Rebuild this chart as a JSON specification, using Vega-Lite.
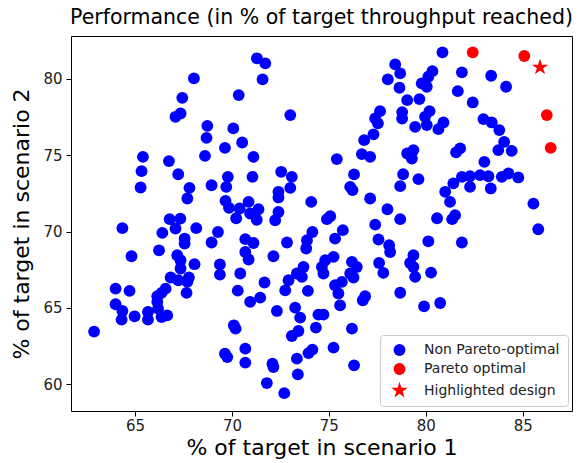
{
"$schema": "https://vega.github.io/schema/vega-lite/v6.json",
"width": 501, "height": 375,
"autosize": {"type": "none"},
"padding": {"left": 71, "top": 36, "right": 8, "bottom": 52},
"title": {"text": "Performance (in % of target throughput reached)", "fontSize": 20.5, "fontWeight": "normal", "anchor": "middle", "offset": 8, "color": "black"},
"data": {"values": [
{"s1":68.04,"s2":80.03,"group":"Non Pareto-optimal"},
{"s1":67.44,"s2":78.75,"group":"Non Pareto-optimal"},
{"s1":67.09,"s2":77.51,"group":"Non Pareto-optimal"},
{"s1":67.35,"s2":77.73,"group":"Non Pareto-optimal"},
{"s1":70.35,"s2":78.93,"group":"Non Pareto-optimal"},
{"s1":68.73,"s2":76.92,"group":"Non Pareto-optimal"},
{"s1":68.69,"s2":76.13,"group":"Non Pareto-optimal"},
{"s1":70.07,"s2":76.75,"group":"Non Pareto-optimal"},
{"s1":69.64,"s2":75.48,"group":"Non Pareto-optimal"},
{"s1":70.53,"s2":75.83,"group":"Non Pareto-optimal"},
{"s1":68.61,"s2":74.95,"group":"Non Pareto-optimal"},
{"s1":65.41,"s2":74.89,"group":"Non Pareto-optimal"},
{"s1":65.34,"s2":73.95,"group":"Non Pareto-optimal"},
{"s1":65.29,"s2":72.88,"group":"Non Pareto-optimal"},
{"s1":66.75,"s2":74.61,"group":"Non Pareto-optimal"},
{"s1":67.23,"s2":73.75,"group":"Non Pareto-optimal"},
{"s1":67.81,"s2":72.86,"group":"Non Pareto-optimal"},
{"s1":67.70,"s2":72.16,"group":"Non Pareto-optimal"},
{"s1":68.95,"s2":73.03,"group":"Non Pareto-optimal"},
{"s1":69.79,"s2":73.58,"group":"Non Pareto-optimal"},
{"s1":69.71,"s2":72.92,"group":"Non Pareto-optimal"},
{"s1":69.67,"s2":72.01,"group":"Non Pareto-optimal"},
{"s1":69.85,"s2":71.55,"group":"Non Pareto-optimal"},
{"s1":70.40,"s2":71.51,"group":"Non Pareto-optimal"},
{"s1":70.22,"s2":70.87,"group":"Non Pareto-optimal"},
{"s1":66.79,"s2":70.81,"group":"Non Pareto-optimal"},
{"s1":67.34,"s2":70.84,"group":"Non Pareto-optimal"},
{"s1":68.16,"s2":70.22,"group":"Non Pareto-optimal"},
{"s1":64.35,"s2":70.22,"group":"Non Pareto-optimal"},
{"s1":71.29,"s2":81.34,"group":"Non Pareto-optimal"},
{"s1":71.72,"s2":81.01,"group":"Non Pareto-optimal"},
{"s1":71.58,"s2":79.96,"group":"Non Pareto-optimal"},
{"s1":73.01,"s2":77.62,"group":"Non Pareto-optimal"},
{"s1":71.11,"s2":74.89,"group":"Non Pareto-optimal"},
{"s1":71.06,"s2":73.58,"group":"Non Pareto-optimal"},
{"s1":72.54,"s2":73.91,"group":"Non Pareto-optimal"},
{"s1":73.09,"s2":73.58,"group":"Non Pareto-optimal"},
{"s1":73.01,"s2":72.86,"group":"Non Pareto-optimal"},
{"s1":72.40,"s2":72.60,"group":"Non Pareto-optimal"},
{"s1":72.40,"s2":72.23,"group":"Non Pareto-optimal"},
{"s1":74.09,"s2":71.94,"group":"Non Pareto-optimal"},
{"s1":70.86,"s2":71.94,"group":"Non Pareto-optimal"},
{"s1":71.37,"s2":71.46,"group":"Non Pareto-optimal"},
{"s1":70.94,"s2":71.18,"group":"Non Pareto-optimal"},
{"s1":71.28,"s2":70.77,"group":"Non Pareto-optimal"},
{"s1":72.40,"s2":71.28,"group":"Non Pareto-optimal"},
{"s1":72.23,"s2":70.74,"group":"Non Pareto-optimal"},
{"s1":75.07,"s2":71.00,"group":"Non Pareto-optimal"},
{"s1":74.90,"s2":70.81,"group":"Non Pareto-optimal"},
{"s1":75.41,"s2":74.74,"group":"Non Pareto-optimal"},
{"s1":76.30,"s2":73.74,"group":"Non Pareto-optimal"},
{"s1":76.10,"s2":72.92,"group":"Non Pareto-optimal"},
{"s1":76.22,"s2":72.71,"group":"Non Pareto-optimal"},
{"s1":77.13,"s2":72.16,"group":"Non Pareto-optimal"},
{"s1":78.02,"s2":71.46,"group":"Non Pareto-optimal"},
{"s1":78.68,"s2":70.81,"group":"Non Pareto-optimal"},
{"s1":77.39,"s2":70.45,"group":"Non Pareto-optimal"},
{"s1":78.42,"s2":80.94,"group":"Non Pareto-optimal"},
{"s1":78.68,"s2":80.35,"group":"Non Pareto-optimal"},
{"s1":78.04,"s2":79.96,"group":"Non Pareto-optimal"},
{"s1":78.64,"s2":79.41,"group":"Non Pareto-optimal"},
{"s1":77.64,"s2":77.88,"group":"Non Pareto-optimal"},
{"s1":77.39,"s2":77.40,"group":"Non Pareto-optimal"},
{"s1":77.53,"s2":77.08,"group":"Non Pareto-optimal"},
{"s1":77.30,"s2":76.36,"group":"Non Pareto-optimal"},
{"s1":76.82,"s2":75.98,"group":"Non Pareto-optimal"},
{"s1":76.70,"s2":75.07,"group":"Non Pareto-optimal"},
{"s1":77.13,"s2":74.89,"group":"Non Pareto-optimal"},
{"s1":78.78,"s2":77.82,"group":"Non Pareto-optimal"},
{"s1":78.78,"s2":77.40,"group":"Non Pareto-optimal"},
{"s1":79.04,"s2":78.60,"group":"Non Pareto-optimal"},
{"s1":79.04,"s2":75.11,"group":"Non Pareto-optimal"},
{"s1":78.83,"s2":73.75,"group":"Non Pareto-optimal"},
{"s1":78.68,"s2":72.97,"group":"Non Pareto-optimal"},
{"s1":80.86,"s2":81.73,"group":"Non Pareto-optimal"},
{"s1":81.86,"s2":80.42,"group":"Non Pareto-optimal"},
{"s1":83.37,"s2":80.20,"group":"Non Pareto-optimal"},
{"s1":84.14,"s2":79.48,"group":"Non Pareto-optimal"},
{"s1":81.65,"s2":79.19,"group":"Non Pareto-optimal"},
{"s1":82.42,"s2":78.45,"group":"Non Pareto-optimal"},
{"s1":80.34,"s2":80.50,"group":"Non Pareto-optimal"},
{"s1":80.13,"s2":80.13,"group":"Non Pareto-optimal"},
{"s1":79.79,"s2":79.70,"group":"Non Pareto-optimal"},
{"s1":80.05,"s2":79.48,"group":"Non Pareto-optimal"},
{"s1":79.67,"s2":78.67,"group":"Non Pareto-optimal"},
{"s1":80.19,"s2":77.88,"group":"Non Pareto-optimal"},
{"s1":79.96,"s2":77.51,"group":"Non Pareto-optimal"},
{"s1":79.45,"s2":76.85,"group":"Non Pareto-optimal"},
{"s1":80.05,"s2":76.97,"group":"Non Pareto-optimal"},
{"s1":80.65,"s2":76.70,"group":"Non Pareto-optimal"},
{"s1":80.91,"s2":77.14,"group":"Non Pareto-optimal"},
{"s1":82.97,"s2":77.36,"group":"Non Pareto-optimal"},
{"s1":83.40,"s2":77.14,"group":"Non Pareto-optimal"},
{"s1":83.79,"s2":76.64,"group":"Non Pareto-optimal"},
{"s1":84.04,"s2":75.87,"group":"Non Pareto-optimal"},
{"s1":83.74,"s2":75.33,"group":"Non Pareto-optimal"},
{"s1":84.43,"s2":75.28,"group":"Non Pareto-optimal"},
{"s1":79.36,"s2":75.33,"group":"Non Pareto-optimal"},
{"s1":79.28,"s2":74.78,"group":"Non Pareto-optimal"},
{"s1":81.77,"s2":75.44,"group":"Non Pareto-optimal"},
{"s1":81.56,"s2":75.18,"group":"Non Pareto-optimal"},
{"s1":83.02,"s2":74.56,"group":"Non Pareto-optimal"},
{"s1":79.62,"s2":73.43,"group":"Non Pareto-optimal"},
{"s1":81.86,"s2":73.58,"group":"Non Pareto-optimal"},
{"s1":82.28,"s2":73.62,"group":"Non Pareto-optimal"},
{"s1":82.80,"s2":73.69,"group":"Non Pareto-optimal"},
{"s1":83.23,"s2":73.62,"group":"Non Pareto-optimal"},
{"s1":83.92,"s2":73.58,"group":"Non Pareto-optimal"},
{"s1":84.26,"s2":73.80,"group":"Non Pareto-optimal"},
{"s1":84.77,"s2":73.54,"group":"Non Pareto-optimal"},
{"s1":81.42,"s2":73.15,"group":"Non Pareto-optimal"},
{"s1":82.28,"s2":72.92,"group":"Non Pareto-optimal"},
{"s1":83.35,"s2":72.82,"group":"Non Pareto-optimal"},
{"s1":81.00,"s2":72.60,"group":"Non Pareto-optimal"},
{"s1":81.25,"s2":71.94,"group":"Non Pareto-optimal"},
{"s1":81.51,"s2":71.07,"group":"Non Pareto-optimal"},
{"s1":81.36,"s2":70.81,"group":"Non Pareto-optimal"},
{"s1":80.58,"s2":70.87,"group":"Non Pareto-optimal"},
{"s1":85.55,"s2":71.83,"group":"Non Pareto-optimal"},
{"s1":85.80,"s2":70.15,"group":"Non Pareto-optimal"},
{"s1":66.41,"s2":69.91,"group":"Non Pareto-optimal"},
{"s1":67.09,"s2":70.20,"group":"Non Pareto-optimal"},
{"s1":69.28,"s2":69.97,"group":"Non Pareto-optimal"},
{"s1":68.95,"s2":69.28,"group":"Non Pareto-optimal"},
{"s1":67.56,"s2":69.54,"group":"Non Pareto-optimal"},
{"s1":67.56,"s2":69.21,"group":"Non Pareto-optimal"},
{"s1":66.24,"s2":68.77,"group":"Non Pareto-optimal"},
{"s1":64.82,"s2":68.38,"group":"Non Pareto-optimal"},
{"s1":67.18,"s2":68.45,"group":"Non Pareto-optimal"},
{"s1":67.35,"s2":68.12,"group":"Non Pareto-optimal"},
{"s1":68.07,"s2":67.86,"group":"Non Pareto-optimal"},
{"s1":69.38,"s2":67.84,"group":"Non Pareto-optimal"},
{"s1":69.38,"s2":67.18,"group":"Non Pareto-optimal"},
{"s1":67.35,"s2":67.58,"group":"Non Pareto-optimal"},
{"s1":67.78,"s2":66.99,"group":"Non Pareto-optimal"},
{"s1":66.84,"s2":66.99,"group":"Non Pareto-optimal"},
{"s1":67.23,"s2":66.81,"group":"Non Pareto-optimal"},
{"s1":67.70,"s2":66.70,"group":"Non Pareto-optimal"},
{"s1":66.58,"s2":66.26,"group":"Non Pareto-optimal"},
{"s1":66.37,"s2":65.98,"group":"Non Pareto-optimal"},
{"s1":66.15,"s2":65.76,"group":"Non Pareto-optimal"},
{"s1":67.66,"s2":65.98,"group":"Non Pareto-optimal"},
{"s1":64.00,"s2":66.26,"group":"Non Pareto-optimal"},
{"s1":64.72,"s2":66.11,"group":"Non Pareto-optimal"},
{"s1":64.00,"s2":65.24,"group":"Non Pareto-optimal"},
{"s1":64.35,"s2":64.80,"group":"Non Pareto-optimal"},
{"s1":64.31,"s2":64.23,"group":"Non Pareto-optimal"},
{"s1":64.98,"s2":64.45,"group":"Non Pareto-optimal"},
{"s1":65.67,"s2":64.73,"group":"Non Pareto-optimal"},
{"s1":65.67,"s2":64.23,"group":"Non Pareto-optimal"},
{"s1":66.19,"s2":64.95,"group":"Non Pareto-optimal"},
{"s1":66.37,"s2":64.40,"group":"Non Pareto-optimal"},
{"s1":66.66,"s2":64.51,"group":"Non Pareto-optimal"},
{"s1":66.15,"s2":65.39,"group":"Non Pareto-optimal"},
{"s1":62.89,"s2":63.45,"group":"Non Pareto-optimal"},
{"s1":70.10,"s2":63.86,"group":"Non Pareto-optimal"},
{"s1":70.19,"s2":63.64,"group":"Non Pareto-optimal"},
{"s1":69.64,"s2":62.00,"group":"Non Pareto-optimal"},
{"s1":69.76,"s2":61.78,"group":"Non Pareto-optimal"},
{"s1":70.69,"s2":69.50,"group":"Non Pareto-optimal"},
{"s1":71.11,"s2":69.25,"group":"Non Pareto-optimal"},
{"s1":70.69,"s2":68.66,"group":"Non Pareto-optimal"},
{"s1":70.86,"s2":68.17,"group":"Non Pareto-optimal"},
{"s1":70.43,"s2":67.25,"group":"Non Pareto-optimal"},
{"s1":70.30,"s2":66.13,"group":"Non Pareto-optimal"},
{"s1":70.94,"s2":65.39,"group":"Non Pareto-optimal"},
{"s1":71.46,"s2":65.67,"group":"Non Pareto-optimal"},
{"s1":71.68,"s2":66.66,"group":"Non Pareto-optimal"},
{"s1":72.14,"s2":68.38,"group":"Non Pareto-optimal"},
{"s1":72.84,"s2":69.28,"group":"Non Pareto-optimal"},
{"s1":74.15,"s2":69.97,"group":"Non Pareto-optimal"},
{"s1":73.87,"s2":69.43,"group":"Non Pareto-optimal"},
{"s1":73.83,"s2":68.89,"group":"Non Pareto-optimal"},
{"s1":73.69,"s2":67.68,"group":"Non Pareto-optimal"},
{"s1":73.35,"s2":67.25,"group":"Non Pareto-optimal"},
{"s1":72.92,"s2":66.81,"group":"Non Pareto-optimal"},
{"s1":72.75,"s2":66.15,"group":"Non Pareto-optimal"},
{"s1":73.61,"s2":67.03,"group":"Non Pareto-optimal"},
{"s1":73.92,"s2":66.11,"group":"Non Pareto-optimal"},
{"s1":72.32,"s2":64.80,"group":"Non Pareto-optimal"},
{"s1":73.26,"s2":65.02,"group":"Non Pareto-optimal"},
{"s1":73.52,"s2":64.36,"group":"Non Pareto-optimal"},
{"s1":73.43,"s2":63.49,"group":"Non Pareto-optimal"},
{"s1":73.09,"s2":63.16,"group":"Non Pareto-optimal"},
{"s1":74.46,"s2":64.56,"group":"Non Pareto-optimal"},
{"s1":74.72,"s2":64.56,"group":"Non Pareto-optimal"},
{"s1":74.33,"s2":63.71,"group":"Non Pareto-optimal"},
{"s1":70.69,"s2":62.33,"group":"Non Pareto-optimal"},
{"s1":70.69,"s2":61.42,"group":"Non Pareto-optimal"},
{"s1":72.09,"s2":61.35,"group":"Non Pareto-optimal"},
{"s1":72.14,"s2":61.13,"group":"Non Pareto-optimal"},
{"s1":71.80,"s2":60.08,"group":"Non Pareto-optimal"},
{"s1":72.70,"s2":59.42,"group":"Non Pareto-optimal"},
{"s1":73.35,"s2":61.68,"group":"Non Pareto-optimal"},
{"s1":73.40,"s2":60.65,"group":"Non Pareto-optimal"},
{"s1":73.95,"s2":62.04,"group":"Non Pareto-optimal"},
{"s1":74.15,"s2":62.27,"group":"Non Pareto-optimal"},
{"s1":75.24,"s2":62.40,"group":"Non Pareto-optimal"},
{"s1":76.30,"s2":61.24,"group":"Non Pareto-optimal"},
{"s1":76.19,"s2":63.64,"group":"Non Pareto-optimal"},
{"s1":76.87,"s2":65.76,"group":"Non Pareto-optimal"},
{"s1":76.75,"s2":65.50,"group":"Non Pareto-optimal"},
{"s1":74.81,"s2":68.12,"group":"Non Pareto-optimal"},
{"s1":74.64,"s2":67.68,"group":"Non Pareto-optimal"},
{"s1":74.72,"s2":67.25,"group":"Non Pareto-optimal"},
{"s1":75.24,"s2":68.34,"group":"Non Pareto-optimal"},
{"s1":75.32,"s2":66.48,"group":"Non Pareto-optimal"},
{"s1":75.67,"s2":66.70,"group":"Non Pareto-optimal"},
{"s1":75.49,"s2":65.94,"group":"Non Pareto-optimal"},
{"s1":75.58,"s2":65.17,"group":"Non Pareto-optimal"},
{"s1":76.19,"s2":68.01,"group":"Non Pareto-optimal"},
{"s1":76.44,"s2":67.68,"group":"Non Pareto-optimal"},
{"s1":76.10,"s2":67.25,"group":"Non Pareto-optimal"},
{"s1":76.27,"s2":66.99,"group":"Non Pareto-optimal"},
{"s1":75.32,"s2":69.54,"group":"Non Pareto-optimal"},
{"s1":75.72,"s2":70.09,"group":"Non Pareto-optimal"},
{"s1":77.56,"s2":69.48,"group":"Non Pareto-optimal"},
{"s1":78.11,"s2":69.10,"group":"Non Pareto-optimal"},
{"s1":78.16,"s2":68.66,"group":"Non Pareto-optimal"},
{"s1":77.59,"s2":67.94,"group":"Non Pareto-optimal"},
{"s1":77.81,"s2":67.29,"group":"Non Pareto-optimal"},
{"s1":80.13,"s2":69.36,"group":"Non Pareto-optimal"},
{"s1":81.86,"s2":69.28,"group":"Non Pareto-optimal"},
{"s1":79.36,"s2":68.45,"group":"Non Pareto-optimal"},
{"s1":79.19,"s2":67.94,"group":"Non Pareto-optimal"},
{"s1":79.36,"s2":67.68,"group":"Non Pareto-optimal"},
{"s1":79.45,"s2":67.03,"group":"Non Pareto-optimal"},
{"s1":80.27,"s2":67.31,"group":"Non Pareto-optimal"},
{"s1":78.68,"s2":65.99,"group":"Non Pareto-optimal"},
{"s1":79.91,"s2":65.10,"group":"Non Pareto-optimal"},
{"s1":80.74,"s2":65.32,"group":"Non Pareto-optimal"},
{"s1":82.42,"s2":81.73,"group":"Pareto optimal"},
{"s1":85.08,"s2":81.49,"group":"Pareto optimal"},
{"s1":86.24,"s2":77.62,"group":"Pareto optimal"},
{"s1":86.44,"s2":75.48,"group":"Pareto optimal"},
{"s1":85.89,"s2":80.75,"group":"Highlighted design"}
]},
"mark": {"type": "point", "filled": true, "opacity": 1, "strokeWidth": 0},
"encoding": {
  "x": {"field": "s1", "type": "quantitative",
    "scale": {"domain": [61.7, 87.54], "nice": false, "zero": false},
    "axis": {"values": [65, 70, 75, 80, 85], "title": "% of target in scenario 1", "titleFontSize": 22, "titleFontWeight": "normal", "titleColor": "black", "labelFontSize": 15, "labelColor": "#222", "tickColor": "black", "tickSize": 5, "domain": false, "grid": false, "labelPadding": 2, "titlePadding": 4}},
  "y": {"field": "s2", "type": "quantitative",
    "scale": {"domain": [58.25, 82.8], "nice": false, "zero": false},
    "axis": {"values": [60, 65, 70, 75, 80], "title": "% of target in scenario 2", "titleFontSize": 22, "titleFontWeight": "normal", "titleColor": "black", "labelFontSize": 15, "labelColor": "#222", "tickColor": "black", "tickSize": 5, "domain": false, "grid": false, "labelPadding": 4, "titlePadding": 9}},
  "color": {"field": "group", "type": "nominal",
    "scale": {"domain": ["Non Pareto-optimal", "Pareto optimal", "Highlighted design"], "range": ["#0000ff", "#ff0000", "#ff0000"]},
    "legend": {"title": null, "orient": "none", "legendX": 309, "legendY": 299, "padding": 8, "strokeColor": "#cccccc", "fillColor": "white", "cornerRadius": 3, "labelFontSize": 14, "labelColor": "#222", "rowPadding": 5, "labelOffset": 15, "symbolOffset": 2}},
  "shape": {"field": "group", "type": "nominal",
    "scale": {"domain": ["Non Pareto-optimal", "Pareto optimal", "Highlighted design"], "range": ["circle", "circle", "M0,-1L0.2245,-0.309L0.951,-0.309L0.363,0.118L0.588,0.809L0,0.382L-0.588,0.809L-0.363,0.118L-0.951,-0.309L-0.2245,-0.309Z"]},
    "legend": {"title": null, "orient": "none", "legendX": 309, "legendY": 299, "padding": 8, "strokeColor": "#cccccc", "fillColor": "white", "cornerRadius": 3, "labelFontSize": 14, "labelColor": "#222", "rowPadding": 5, "labelOffset": 15, "symbolOffset": 2}},
  "size": {"field": "group", "type": "nominal",
    "scale": {"type": "ordinal", "domain": ["Non Pareto-optimal", "Pareto optimal", "Highlighted design"], "range": [140, 140, 300]},
    "legend": {"title": null, "orient": "none", "legendX": 309, "legendY": 299, "padding": 8, "strokeColor": "#cccccc", "fillColor": "white", "cornerRadius": 3, "labelFontSize": 14, "labelColor": "#222", "rowPadding": 5, "labelOffset": 15, "symbolOffset": 2}}
},
"config": {"view": {"stroke": "black", "strokeWidth": 1}, "font": "DejaVu Sans"}
}
